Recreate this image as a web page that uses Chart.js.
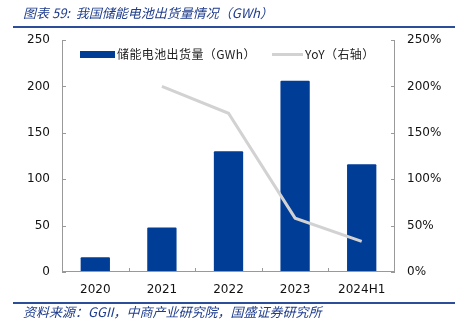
<!DOCTYPE html>
<html>
<head>
<meta charset="utf-8">
<script src="https://cdn.jsdelivr.net/npm/chart.js@4"></script>
<style>
  html, body { margin: 0; padding: 0; background: #fff; }
  #wrap { position: relative; width: 459px; height: 334px; overflow: hidden; font-family: "Noto Sans CJK SC", "DejaVu Sans", sans-serif; }
  canvas { position: absolute; left: 0; top: 0; }
  .title { position: absolute; left: 23px; top: 4px; font-size: 13px; font-style: italic; color: #1f3d8c; white-space: nowrap; line-height: 18px; }
  .rule { position: absolute; left: 13px; width: 442px; height: 2px; background: #2c4d9a; }
  .source { position: absolute; left: 23px; top: 303px; font-size: 13px; font-style: italic; color: #1f3d8c; white-space: nowrap; line-height: 18px; }
  .leg { position: absolute; font-size: 12px; color: #222; white-space: nowrap; line-height: 14px; letter-spacing: 0.4px; }
  .sw { position: absolute; }
</style>
</head>
<body>
<div id="wrap">
  <canvas id="c" width="459" height="334"></canvas>
  <div class="title">图表 59:&nbsp; 我国储能电池出货量情况（GWh）</div>
  <div class="rule" style="top:26px"></div>
  <div class="rule" style="top:302px"></div>
  <div class="source">资料来源：GGII，中商产业研究院，国盛证券研究所</div>
  <div class="sw" style="left:80px;top:51px;width:35px;height:7px;background:#003d96"></div>
  <div class="leg" style="left:117px;top:47px">储能电池出货量（GWh）</div>
  <div class="sw" style="left:272px;top:53px;width:31px;height:3px;background:#d2d2d2"></div>
  <div class="leg" style="left:305px;top:47px">YoY（右轴）</div>
</div>
<script>
const categories = ["2020", "2021", "2022", "2023", "2024H1"];
const shipments = [16, 48, 130, 206, 116];
const yoy = [null, 200, 171, 58, 33];
const leftTicks = [0, 50, 100, 150, 200, 250];
const rightTicks = [0, 50, 100, 150, 200, 250];

const tickMarks = {
  id: 'tickMarks',
  afterDraw(chart) {
    const ctx = chart.ctx;
    const x = chart.scales.x, yl = chart.scales.y, yr = chart.scales.y1;
    const a = chart.chartArea;
    ctx.save();
    ctx.strokeStyle = '#999';
    ctx.lineWidth = 1;
    ctx.beginPath();
    ctx.moveTo(a.left + 0.5, a.top); ctx.lineTo(a.left + 0.5, a.bottom);
    ctx.moveTo(a.right - 0.5, a.top); ctx.lineTo(a.right - 0.5, a.bottom);
    ctx.moveTo(a.left, a.bottom - 0.5); ctx.lineTo(a.right, a.bottom - 0.5);
    leftTicks.forEach(v => { const p = Math.round(yl.getPixelForValue(v)) + 0.5; ctx.moveTo(a.left, p); ctx.lineTo(a.left + 4, p); });
    rightTicks.forEach(v => { const p = Math.round(yr.getPixelForValue(v)) + 0.5; ctx.moveTo(a.right, p); ctx.lineTo(a.right - 4, p); });
    for (let i = 1; i < categories.length; i++) {
      const p = Math.round((x.getPixelForValue(i - 1) + x.getPixelForValue(i)) / 2) + 0.5;
      ctx.moveTo(p, a.bottom); ctx.lineTo(p, a.bottom - 4);
    }
    ctx.stroke();
    ctx.restore();
  }
};

new Chart(document.getElementById('c'), {
  data: {
    labels: categories,
    datasets: [
      { type: 'line', label: 'YoY（右轴）', data: yoy, yAxisID: 'y1', borderColor: '#d2d2d2', borderWidth: 3, pointRadius: 0, tension: 0, order: 0 },
      { type: 'bar', label: '储能电池出货量（GWh）', data: shipments, yAxisID: 'y', backgroundColor: '#003d96', borderRadius: 1, categoryPercentage: 1, barPercentage: 0.44, order: 1 }
    ]
  },
  options: {
    responsive: false,
    animation: false,
    layout: { padding: { top: 40, bottom: 34, left: 0, right: 0 } },
    plugins: { legend: { display: false }, tooltip: { enabled: false } },
    scales: {
      x: {
        grid: { display: false, drawTicks: false },
        border: { display: false },
        ticks: { color: '#111', font: { family: 'DejaVu Sans', size: 12 }, padding: 11 },
        afterFit(s) { s.height = 28; }
      },
      y: {
        position: 'left', min: 0, max: 250,
        grid: { display: false, drawTicks: false },
        border: { display: false },
        ticks: { stepSize: 50, color: '#111', font: { family: 'DejaVu Sans', size: 12 }, padding: 12 },
        afterFit(s) { s.width = 62; }
      },
      y1: {
        position: 'right', min: 0, max: 250,
        grid: { display: false, drawTicks: false },
        border: { display: false },
        ticks: { stepSize: 50, color: '#111', font: { family: 'DejaVu Sans', size: 12 }, padding: 12, callback: v => v + '%' },
        afterFit(s) { s.width = 64; }
      }
    }
  },
  plugins: [tickMarks]
});
</script>
</body>
</html>
